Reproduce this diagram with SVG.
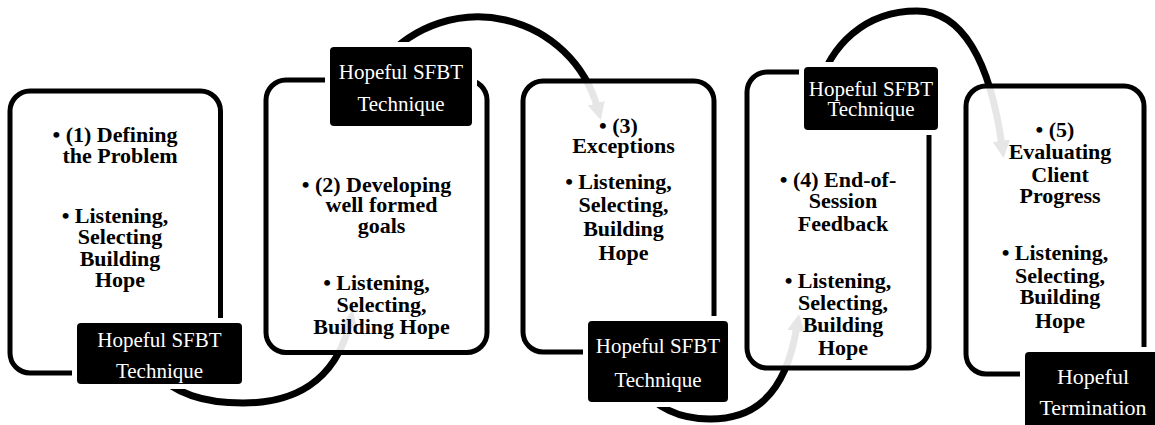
<svg xmlns="http://www.w3.org/2000/svg" width="1155" height="425" viewBox="0 0 1155 425">
  <style>
    .box { fill: #fff; fill-opacity: 0.9; stroke: #000; stroke-width: 5; }
    .tag { fill: #000; stroke: #fff; stroke-width: 10; paint-order: stroke; }
    .arc { fill: none; stroke: #000; stroke-width: 7; marker-end: url(#head); }
    .t { font-family: "Liberation Serif", "Times New Roman", serif; font-weight: bold; font-size: 22px; fill: #000; text-anchor: middle; }
    .w { font-family: "Liberation Serif", "Times New Roman", serif; font-size: 21px; fill: #fff; text-anchor: middle; }
  </style>
  <defs>
    <marker id="head" viewBox="0 0 10 10" refX="3" refY="5" markerWidth="2.5" markerHeight="2.5" orient="auto" markerUnits="strokeWidth">
      <path d="M0,0 L10,5 L0,10 z" fill="#000"/>
    </marker>
  </defs>

  <!-- curved arrows between the steps (drawn first so the boxes tint them) -->
  <g id="connectors">
    <path class="arc" d="M150 368 C175 395 205 403 243 403 C290 403 335 385 350 322"/>
    <path class="arc" d="M384 60 A124 124 0 0 1 597.6 108.3"/>
    <path class="arc" d="M640 385 C655 408 680 419 710 419 C750 419 785 400 797 326"/>
    <path class="arc" d="M818 90 C830 45 865 11 917 11 C962 11 990 60 1002 146"/>
  </g>

  <g id="step1">
    <rect class="box" x="10" y="91" width="210.5" height="282" rx="20"/>
    <text class="t" x="115" y="142">• (1) Defining</text>
    <text class="t" x="120" y="163">the Problem</text>
    <text class="t" x="115" y="223">• Listening,</text>
    <text class="t" x="120" y="244">Selecting</text>
    <text class="t" x="120" y="266">Building</text>
    <text class="t" x="120" y="287">Hope</text>
    <rect class="tag" x="77" y="323" width="165" height="61" rx="4"/>
    <text class="w" x="159.5" y="347">Hopeful SFBT</text>
    <text class="w" x="159.5" y="378">Technique</text>
  </g>

  <g id="step2">
    <rect class="box" x="266" y="80" width="221" height="272.5" rx="20"/>
    <text class="t" x="376.5" y="192">• (2) Developing</text>
    <text class="t" x="381.5" y="212">well formed</text>
    <text class="t" x="381.5" y="233">goals</text>
    <text class="t" x="376.5" y="290">• Listening,</text>
    <text class="t" x="381.5" y="312">Selecting,</text>
    <text class="t" x="381.5" y="334">Building Hope</text>
    <rect class="tag" x="330" y="47" width="142" height="79" rx="4"/>
    <text class="w" x="401" y="79">Hopeful SFBT</text>
    <text class="w" x="401" y="111">Technique</text>
  </g>

  <g id="step3">
    <rect class="box" x="523" y="81" width="191" height="271" rx="20"/>
    <text class="t" x="618.5" y="133">• (3)</text>
    <text class="t" x="623.5" y="153">Exceptions</text>
    <text class="t" x="618.5" y="189">• Listening,</text>
    <text class="t" x="623.5" y="212">Selecting,</text>
    <text class="t" x="623.5" y="236">Building</text>
    <text class="t" x="623.5" y="260">Hope</text>
    <rect class="tag" x="588" y="321" width="140" height="81" rx="4"/>
    <text class="w" x="658" y="353">Hopeful SFBT</text>
    <text class="w" x="658" y="387">Technique</text>
  </g>

  <g id="step4">
    <rect class="box" x="747" y="72" width="182" height="296" rx="20"/>
    <text class="t" x="838" y="187">• (4) End-of-</text>
    <text class="t" x="843" y="208">Session</text>
    <text class="t" x="843" y="231">Feedback</text>
    <text class="t" x="838" y="288">• Listening,</text>
    <text class="t" x="843" y="310">Selecting,</text>
    <text class="t" x="843" y="332">Building</text>
    <text class="t" x="843" y="355">Hope</text>
    <rect class="tag" x="804" y="67" width="134" height="63" rx="4"/>
    <text class="w" x="871" y="96">Hopeful SFBT</text>
    <text class="w" x="871" y="116">Technique</text>
  </g>

  <g id="step5">
    <rect class="box" x="966" y="86" width="178" height="288" rx="20"/>
    <text class="t" x="1055" y="137">• (5)</text>
    <text class="t" x="1060" y="159">Evaluating</text>
    <text class="t" x="1060" y="182">Client</text>
    <text class="t" x="1060" y="203">Progress</text>
    <text class="t" x="1055" y="260">• Listening,</text>
    <text class="t" x="1060" y="283">Selecting,</text>
    <text class="t" x="1060" y="304">Building</text>
    <text class="t" x="1060" y="328">Hope</text>
    <rect class="tag" x="1025" y="352" width="140" height="80" rx="4"/>
    <text class="w" x="1093" y="384" style="font-size:22px">Hopeful</text>
    <text class="w" x="1093" y="415" style="font-size:22px">Termination</text>
  </g>
</svg>
